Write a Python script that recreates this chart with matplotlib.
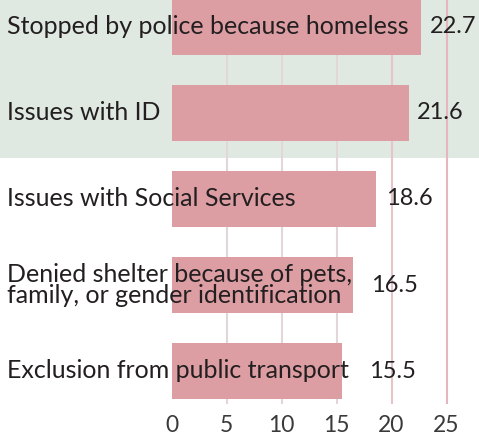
import matplotlib.pyplot as plt
from matplotlib.transforms import blended_transform_factory

# Data
categories = [
    "Stopped by police because homeless",
    "Issues with ID",
    "Issues with Social Services",
    "Denied shelter because of pets,\nfamily, or gender identification",
    "Exclusion from public transport",
]
values = [22.7, 21.6, 18.6, 16.5, 15.5]
value_labels = ["22.7", "21.6", "18.6", "16.5", "15.5"]
xticks = [0, 5, 10, 15, 20, 25]

W, H = 479, 436
DPI = 100
plt.rcParams["font.family"] = ["Lato", "DejaVu Sans"]

fig = plt.figure(figsize=(W / DPI, H / DPI), dpi=DPI)
fig.patch.set_facecolor("white")

# background axes carrying the light green band behind the top rows
bg = fig.add_axes([0, 0, 1, 1], zorder=-1)
bg.set_xlim(0, W)
bg.set_ylim(H, 0)
bg.axhspan(0, 158, color="#dfe9e2", lw=0)
bg.axis("off")

# axes: x=0 at 171.5 px, 11 px per unit
x0_px, px_per_unit = 171.5, 11.0
xmax = (W - x0_px) / px_per_unit
ax_bottom_px = 404
ax = fig.add_axes([x0_px / W, 1 - ax_bottom_px / H, (W - x0_px) / W, ax_bottom_px / H])
ax.set_facecolor("none")

row_px = 86.0
ytop = -27 / row_px
ybot = ytop + ax_bottom_px / row_px
ax.set_xlim(0, xmax)
ax.set_ylim(ybot, ytop)

ypos = list(range(len(categories)))
ax.barh(ypos, values, height=0.66, color="#dc9ea3", zorder=2)

grid_colors = ["#e2d6d8", "#e2d6d8", "#e2d6d8", "#e2d6d8", "#e6c4ca", "#e7b5bd"]
for t, c in zip(xticks, grid_colors):
    if t == 0:
        continue
    ax.axvline(t, color=c, lw=1.5, zorder=1)

for s in ax.spines.values():
    s.set_visible(False)
ax.set_yticks([])
ax.set_xticks(xticks)
ax.set_xticklabels([str(t) for t in xticks], fontsize=16.5, color="#3a3a3a")
ax.tick_params(axis="x", length=0, pad=8)

text_color = "#231f20"
label_tf = blended_transform_factory(fig.transFigure, ax.transData)
for y, label in zip(ypos, categories):
    ax.text(7 / W, y, label, transform=label_tf, fontsize=18, color=text_color,
            va="center", ha="left", zorder=3, linespacing=0.9)

# value labels, with their gap from the bar end in pixels
label_gap_px = [9, 8, 10, 18, 27]
for y, v, lab, gap in zip(ypos, values, value_labels, label_gap_px):
    ax.text(v + gap / px_per_unit, y, lab, fontsize=17, color=text_color,
            va="center", ha="left", zorder=3)

fig.savefig("out.png", dpi=DPI)
